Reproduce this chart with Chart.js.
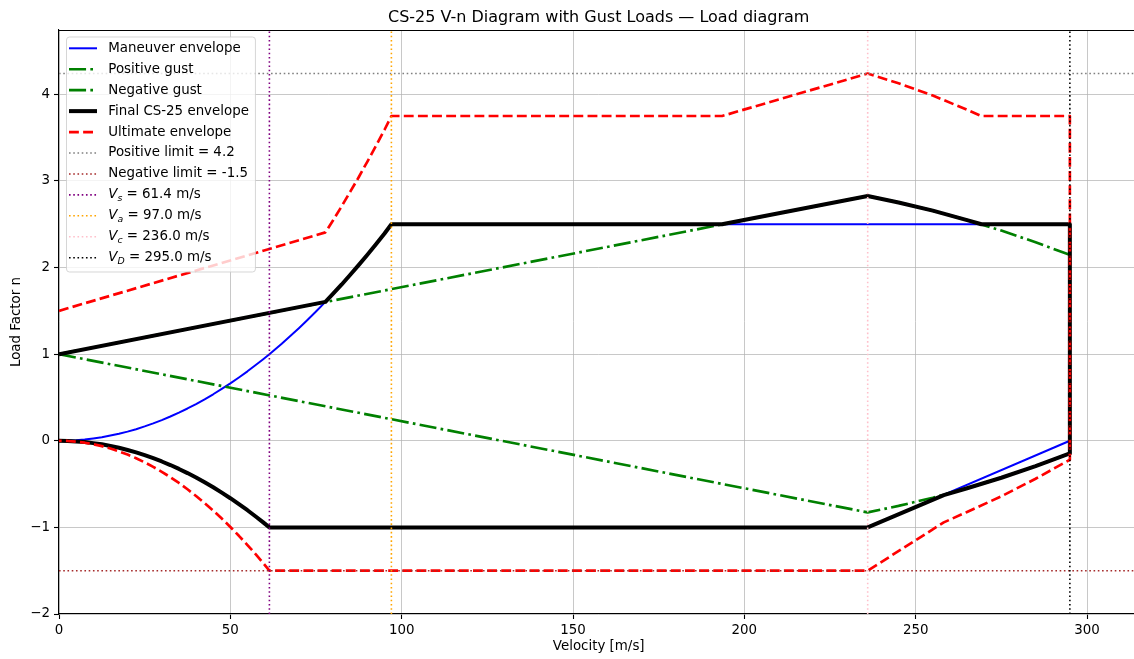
<!DOCTYPE html>
<html>
<head>
<meta charset="utf-8">
<title>CS-25 V-n Diagram</title>
<script src="https://cdn.jsdelivr.net/npm/chart.js@4.4.1/dist/chart.umd.min.js"></script>
<style>
  html, body { margin: 0; padding: 0; background: #fff; overflow: hidden; }
  #wrap { width: 1140px; height: 659px; }
</style>
</head>
<body>
<div id="wrap"><canvas id="vn-chart" width="1140" height="659"></canvas></div>
<script>
// Axis limits and ticks
const xMax = 315;
const yMin = -2;
const yMax = 4.743;
const xStep = 50;
const yStep = 1;

// Stall curve n = (V/Vs)^2, sampled from V = 0 up to Vs
const stallV = [0, 2.5, 5, 7.5, 10, 12.5, 15, 17.5, 20, 22.5, 25, 27.5, 30, 32.5, 35, 37.5, 40, 42.5, 45, 47.5, 50, 52.5, 55, 57.5, 59.5, 61.4];
const stallN = [0, 0.002, 0.007, 0.015, 0.027, 0.041, 0.06, 0.081, 0.106, 0.134, 0.166, 0.201, 0.239, 0.28, 0.325, 0.373, 0.424, 0.479, 0.537, 0.599, 0.663, 0.731, 0.802, 0.877, 0.939, 1.0];
const stallNegN = [0, -0.002, -0.007, -0.015, -0.027, -0.041, -0.06, -0.081, -0.106, -0.134, -0.166, -0.201, -0.239, -0.28, -0.325, -0.373, -0.424, -0.479, -0.537, -0.599, -0.663, -0.731, -0.802, -0.877, -0.939, -1.0];
// Stall curve above Vs, up to Va
const stallHighV = [65, 67.5, 70, 72.5, 75, 77.75, 80, 82.5, 85, 87.5, 90, 92.5, 95, 97];
const stallHighN = [1.121, 1.209, 1.3, 1.394, 1.492, 1.604, 1.698, 1.805, 1.917, 2.031, 2.149, 2.27, 2.394, 2.5];

// Maneuver envelope closing edge: n = 2.5 to V_D, down to 0, back to (Vc, -1)
const maneuverEdgeV = [295, 295, 236];
const maneuverEdgeN = [2.5, 0, -1];

// Gust lines
const gustV = [0, 236, 245, 255, 265, 275, 285, 295];
const gustPosN = [1, 2.827, 2.752, 2.657, 2.548, 2.427, 2.292, 2.146];
const gustNegN = [1, -0.827, -0.752, -0.657, -0.548, -0.427, -0.292, -0.146];

// Final CS-25 envelope: upper branch from V = 0 to V_D, then lower branch back from V_D to Vs
const finalUpperV = [0, 77.75, 80, 82.5, 85, 87.5, 90, 92.5, 95, 97, 193.5, 236, 245, 255, 265, 269.2, 295];
const finalUpperN = [1, 1.604, 1.698, 1.805, 1.917, 2.031, 2.149, 2.27, 2.394, 2.5, 2.5, 2.827, 2.752, 2.657, 2.548, 2.5, 2.5];
const finalLowerV = [295, 285, 275, 265, 258.2, 236];
const finalLowerN = [-0.146, -0.292, -0.427, -0.548, -0.628, -1];

// Ultimate envelope (1.5 x limit)
const ultUpperN = [1.5, 2.406, 2.547, 2.708, 2.876, 3.046, 3.224, 3.405, 3.591, 3.75, 3.75, 4.24, 4.128, 3.986, 3.822, 3.75, 3.75];
const ultLowerN = [-0.219, -0.438, -0.641, -0.822, -0.942, -1.5];
const ultStallN = [0, -0.002, -0.01, -0.022, -0.04, -0.062, -0.09, -0.122, -0.159, -0.201, -0.249, -0.301, -0.358, -0.42, -0.487, -0.56, -0.637, -0.719, -0.806, -0.898, -0.995, -1.097, -1.204, -1.315, -1.409, -1.5];

const positiveLimit = 4.24;
const negativeLimit = -1.5;

// Characteristic speeds
const speedNames = ['s', 'a', 'c', 'D'];
const speedValues = [61.4, 97.0, 236.0, 295.0];
const speedColors = ['#800080', '#ffa500', '#ffc0cb', '#000000'];

const FONT = "'DejaVu Sans', 'Liberation Sans', sans-serif";
const PT = 96 / 72;
const FS = 13.4;

function pairs(xs, ys) {
  return xs.map((x, i) => ({ x: x, y: ys[i] }));
}

function backwards(arr) {
  return arr.slice().reverse();
}

function lineSet(label, data, color, lw, style, order) {
  let dash = [];
  if (style === 'dashed') dash = [3.7 * lw, 1.6 * lw];
  if (style === 'dashdot') dash = [6.4 * lw, 1.6 * lw, 1 * lw, 1.6 * lw];
  if (style === 'dotted') dash = [1 * lw, 1.65 * lw];
  return {
    label: label,
    data: data,
    borderColor: color,
    borderWidth: lw,
    borderDash: dash,
    borderCapStyle: 'butt',
    borderJoinStyle: 'round',
    pointRadius: 0,
    pointHoverRadius: 0,
    tension: 0,
    fill: false,
    order: order
  };
}

const maneuverData = pairs(stallV, stallN)
  .concat(pairs(stallHighV, stallHighN))
  .concat(pairs(maneuverEdgeV, maneuverEdgeN))
  .concat(pairs(backwards(stallV), backwards(stallNegN)));

const finalData = pairs(finalUpperV, finalUpperN)
  .concat(pairs(finalLowerV, finalLowerN))
  .concat(pairs(backwards(stallV), backwards(stallNegN)));

const ultimateData = pairs(finalUpperV, ultUpperN)
  .concat(pairs(finalLowerV, ultLowerN))
  .concat(pairs(backwards(stallV), backwards(ultStallN)));

const datasets = [
  lineSet('Maneuver envelope', maneuverData, '#0000ff', 1.5 * PT, 'solid', 20),
  lineSet('Positive gust', pairs(gustV, gustPosN), '#008000', 2 * PT, 'dashdot', 19),
  lineSet('Negative gust', pairs(gustV, gustNegN), '#008000', 2 * PT, 'dashdot', 18),
  lineSet('Final CS-25 envelope', finalData, '#000000', 3 * PT, 'solid', 17),
  lineSet('Ultimate envelope', ultimateData, '#ff0000', 2 * PT, 'dashed', 16),
  lineSet('Positive limit = ' + positiveLimit.toFixed(1), [{ x: 0, y: positiveLimit }, { x: xMax, y: positiveLimit }], '#808080', 1.2 * PT, 'dotted', 15),
  lineSet('Negative limit = ' + negativeLimit.toFixed(1), [{ x: 0, y: negativeLimit }, { x: xMax, y: negativeLimit }], '#a52a2a', 1.2 * PT, 'dotted', 14)
];
speedValues.forEach((v, i) => {
  const ds = lineSet(' = ' + v.toFixed(1) + ' m/s', [{ x: v, y: yMin }, { x: v, y: yMax }], speedColors[i], 1.2 * PT, 'dotted', 13 - i);
  ds.sub = speedNames[i];
  datasets.push(ds);
});

// Title, axis titles, top spine and the legend box
const decorPlugin = {
  id: 'decor',
  afterDraw(chart) {
    const ctx = chart.ctx;
    const a = chart.chartArea;
    ctx.save();

    ctx.strokeStyle = '#000';
    ctx.lineWidth = 1.1;
    ctx.beginPath();
    ctx.moveTo(a.left, a.top + 0.5);
    ctx.lineTo(a.right, a.top + 0.5);
    ctx.stroke();

    ctx.fillStyle = '#000';
    ctx.textAlign = 'center';
    ctx.textBaseline = 'alphabetic';
    ctx.font = '16px ' + FONT;
    ctx.fillText('CS-25 V-n Diagram with Gust Loads \u2014 Load diagram', (a.left + a.right) / 2, 21.5);

    ctx.font = FS + 'px ' + FONT;
    ctx.textBaseline = 'middle';
    ctx.fillText('Velocity [m/s]', (a.left + a.right) / 2, 647);
    ctx.save();
    ctx.translate(17, (a.top + a.bottom) / 2);
    ctx.rotate(-Math.PI / 2);
    ctx.fillText('Load Factor n', 0, 0);
    ctx.restore();

    drawLegend(ctx, chart.data.datasets, a);
    ctx.restore();
  }
};

function labelWidth(ctx, ds) {
  ctx.font = FS + 'px ' + FONT;
  let w = ctx.measureText(ds.label).width;
  if (ds.sub) {
    ctx.font = 'italic ' + FS + 'px ' + FONT;
    w += ctx.measureText('V').width;
    ctx.font = 'italic ' + (FS * 0.7) + 'px ' + FONT;
    w += ctx.measureText(ds.sub).width;
  }
  return w;
}

function drawLegend(ctx, sets, a) {
  const x0 = a.left + 7, y0 = a.top + 6.5;
  const rowH = 20.94;
  const firstRow = 11.8;
  const handleX = x0 + 3;
  const handleLen = 28;
  const textX = x0 + 42.3;
  let maxW = 0;
  sets.forEach(ds => { maxW = Math.max(maxW, labelWidth(ctx, ds)); });
  const w = textX - x0 + maxW + 6;
  const h = 235;

  ctx.fillStyle = 'rgba(255,255,255,0.8)';
  ctx.strokeStyle = 'rgba(204,204,204,0.8)';
  ctx.lineWidth = 1;
  ctx.setLineDash([]);
  ctx.beginPath();
  ctx.roundRect(x0 + 0.5, y0 + 0.5, w, h, 3);
  ctx.fill();
  ctx.stroke();

  sets.forEach((ds, i) => {
    const cy = y0 + firstRow + i * rowH;
    ctx.strokeStyle = ds.borderColor;
    ctx.lineWidth = ds.borderWidth;
    ctx.setLineDash(ds.borderDash);
    ctx.lineCap = 'butt';
    ctx.beginPath();
    ctx.moveTo(handleX, cy);
    ctx.lineTo(handleX + handleLen, cy);
    ctx.stroke();
    ctx.setLineDash([]);

    ctx.fillStyle = '#000';
    ctx.textAlign = 'left';
    ctx.textBaseline = 'middle';
    let tx = textX;
    if (ds.sub) {
      ctx.font = 'italic ' + FS + 'px ' + FONT;
      ctx.fillText('V', tx, cy);
      tx += ctx.measureText('V').width;
      ctx.font = 'italic ' + (FS * 0.7) + 'px ' + FONT;
      ctx.fillText(ds.sub, tx, cy + 3.5);
      tx += ctx.measureText(ds.sub).width;
    }
    ctx.font = FS + 'px ' + FONT;
    ctx.fillText(ds.label, tx, cy);
  });
}

function minusSign(value) {
  return String(value).replace('-', '\u2212');
}

const gridColor = 'rgba(176,176,176,0.7)';

new Chart(document.getElementById('vn-chart'), {
  type: 'line',
  data: { datasets: datasets },
  options: {
    responsive: false,
    animation: false,
    events: [],
    layout: { padding: { top: 30, right: 1.6, left: 0, bottom: 0 } },
    plugins: {
      legend: { display: false },
      title: { display: false },
      tooltip: { enabled: false }
    },
    scales: {
      x: {
        type: 'linear',
        min: 0,
        max: xMax,
        afterFit: (scale) => { scale.height = 45; },
        grid: { color: gridColor, lineWidth: 1, drawTicks: true, tickLength: 5, tickColor: '#000', tickWidth: 1.1 },
        border: { color: '#000', width: 1.1 },
        ticks: {
          stepSize: xStep,
          includeBounds: false,
          maxRotation: 0,
          padding: 3,
          color: '#000',
          font: { family: FONT, size: FS },
          callback: minusSign
        }
      },
      y: {
        type: 'linear',
        min: yMin,
        max: yMax,
        afterFit: (scale) => { scale.width = 59; },
        grid: { color: gridColor, lineWidth: 1, drawTicks: true, tickLength: 5, tickColor: '#000', tickWidth: 1.1 },
        border: { color: '#000', width: 1.1 },
        ticks: {
          stepSize: yStep,
          includeBounds: false,
          padding: 4,
          color: '#000',
          font: { family: FONT, size: FS },
          callback: minusSign
        }
      }
    }
  },
  plugins: [decorPlugin]
});
</script>
</body>
</html>
